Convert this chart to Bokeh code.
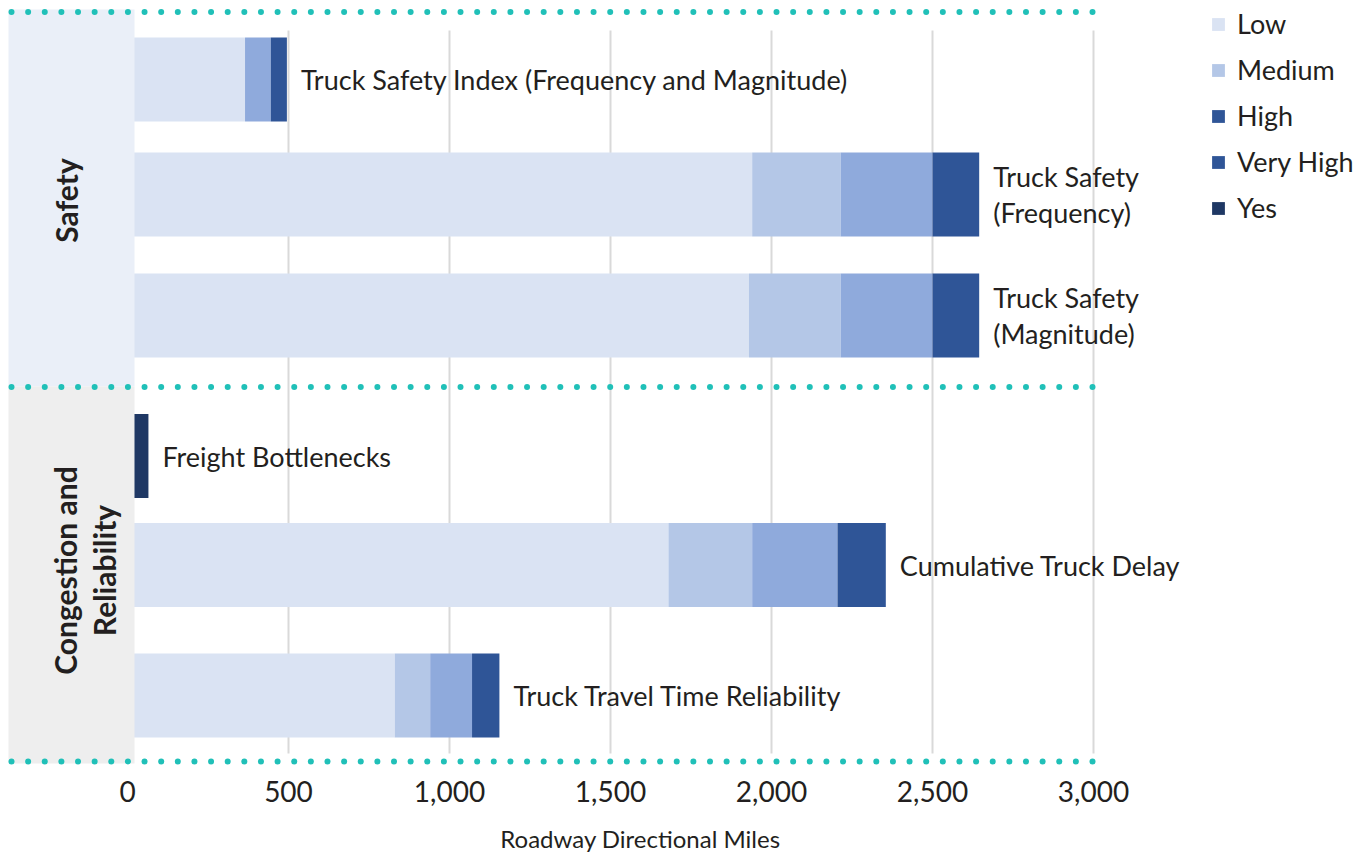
import numpy as np
from bokeh.plotting import figure
from bokeh.layouts import column
from bokeh.models import (ColumnDataSource, Range1d, FixedTicker, NumeralTickFormatter,
                          Legend, LegendItem)
from bokeh.core.properties import value
from bokeh.embed import file_html
from bokeh.resources import INLINE

# ---------------- data ----------------
measures = ["Truck Safety Index (Frequency and Magnitude)",
            "Truck Safety\n(Frequency)",
            "Truck Safety\n(Magnitude)",
            "Freight Bottlenecks",
            "Cumulative Truck Delay",
            "Truck Travel Time Reliability"]
groups = ["Safety", "Congestion and\nReliability"]
series_names = ["Low", "Medium", "High", "Very High", "Yes"]
low = [365, 1940, 1930, 0, 1680, 830]
medium = [0, 275, 285, 0, 260, 110]
high = [80, 285, 285, 0, 265, 130]
very_high = [50, 145, 145, 0, 150, 85]
yes = [0, 0, 0, 65, 0, 0]
x_ticks = [0, 500, 1000, 1500, 2000, 2500, 3000]
x_title = "Roadway Directional Miles"

# ---------------- layout / style ----------------
W, H = 1356, 856
H_MAIN = 814
ZERO_PX = 127.0
PX_PER_UNIT = 161.0 / 500.0
def xd(px):
    return (px - ZERO_PX) / PX_PER_UNIT
FRAME_BOTTOM = 778
bar_center_px = [79, 194, 315, 455.5, 564.5, 695]
BAR_H = 84
series_colors = ["#dae3f3", "#b4c7e7", "#8faadc", "#2f5597", "#1f3864"]
TEXT = "#231f20"
TEAL = "#20c0b8"
FONT = value("Lato")

xr = Range1d(xd(0), xd(W))
p = figure(width=W, height=H_MAIN, output_backend="svg", toolbar_location=None,
           x_range=xr, y_range=Range1d(FRAME_BOTTOM, 0),
           y_axis_location=None, min_border_left=0, min_border_right=0,
           min_border_top=0, min_border_bottom=H_MAIN - FRAME_BOTTOM)
p.outline_line_color = None
p.xgrid.visible = False
p.ygrid.visible = False

# gridlines
gx = x_ticks[1:]
p.segment(x0=gx, x1=gx, y0=30, y1=753, line_color="#d9d9d9", line_width=2)

# stacked bars
src = ColumnDataSource(dict(y=bar_center_px, Low=low, Medium=medium, High=high,
                            **{"Very High": very_high}, Yes=yes))
rs = p.hbar_stack(series_names, y="y", height=BAR_H, color=series_colors,
                  line_color=None, source=src)

# group panels
p.quad(left=xd(8), right=xd(134), top=[9, 386], bottom=[386, 763],
       fill_color=["#eaeff8", "#eeeeee"], line_color=None)

# dotted separators
dots_x = np.linspace(xd(11), xd(1092), 66)
for yy in [11.5, 386.5, 761]:
    p.scatter(x=dots_x, y=[yy] * len(dots_x), size=6, color=TEAL, line_color=None)

# group labels
p.text(x=[xd(65), xd(84)], y=[200, 570], text=groups, angle=np.pi / 2,
       text_align="center", text_baseline="middle", text_font=FONT,
       text_font_style="bold", text_font_size="30px", text_color=TEXT,
       text_line_height=1.08)

# bar labels
totals = [a + b + c + d + e for a, b, c, d, e in zip(low, medium, high, very_high, yes)]
p.text(x=totals, y=bar_center_px, text=measures, x_offset=14,
       text_baseline="middle", text_align="left", text_font=FONT,
       text_font_size="27px", text_color=TEXT, text_line_height=1.11)

# axis
ax = p.xaxis[0]
ax.ticker = FixedTicker(ticks=x_ticks)
ax.formatter = NumeralTickFormatter(format="0,0")
ax.axis_line_color = None
ax.major_tick_line_color = None
ax.minor_tick_line_color = None
ax.major_tick_out = 0
ax.major_label_standoff = 2
ax.major_label_text_font = "Lato"
ax.major_label_text_font_size = "28px"
ax.major_label_text_color = TEXT

# legend
legend = Legend(items=[LegendItem(label="Low", renderers=[rs[0]]),
                       LegendItem(label="Medium", renderers=[rs[1]]),
                       LegendItem(label="High", renderers=[rs[3]]),
                       LegendItem(label="Very High", renderers=[rs[3]]),
                       LegendItem(label="Yes", renderers=[rs[4]])],
                location=(1210, 554), glyph_width=16, glyph_height=16,
                label_standoff=11, spacing=13, padding=0, margin=0,
                border_line_color=None, background_fill_alpha=0,
                label_text_font="Lato", label_text_font_size="27px",
                label_text_color=TEXT)
p.add_layout(legend)

# axis title strip below the chart
t = figure(width=W, height=H - H_MAIN, output_backend="svg", toolbar_location=None,
           x_range=xr, y_range=Range1d(H, H_MAIN), x_axis_location=None,
           y_axis_location=None, min_border=0)
t.outline_line_color = None
t.xgrid.visible = False
t.ygrid.visible = False
t.text(x=[xd(640)], y=[838], text=[x_title], text_align="center",
       text_baseline="middle", text_font=FONT, text_font_size="24px",
       text_color=TEXT)

open("out.html", "w").write(file_html(column(p, t, spacing=0), INLINE))
